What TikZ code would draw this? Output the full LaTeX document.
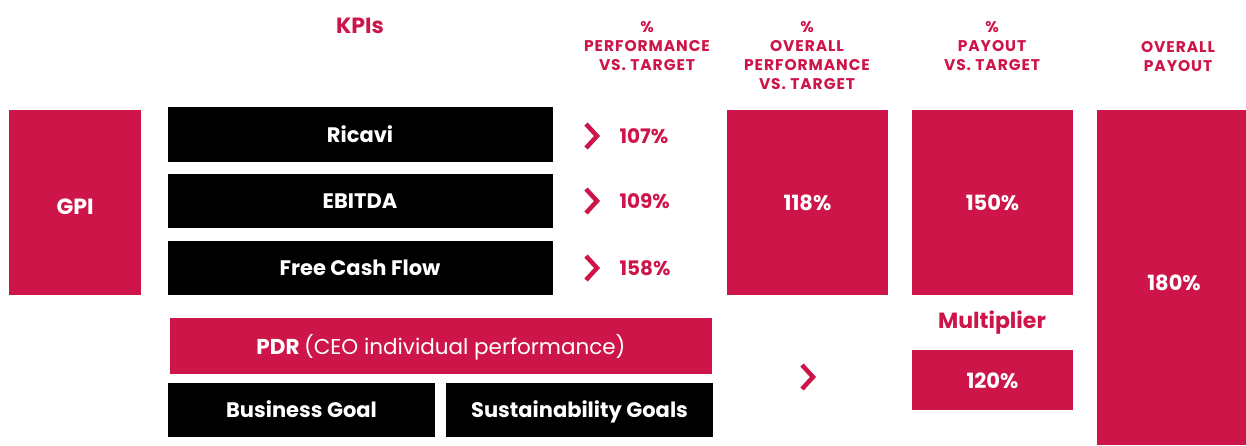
\documentclass[tikz,border=0pt]{standalone}
\usepackage{fontspec}
\setmainfont{Poppins}
\newfontfamily\capsfont[LetterSpace=6]{Poppins}
\definecolor{rouge}{RGB}{206,21,74}

\begin{document}
\begin{tikzpicture}[x=1pt,y=-1pt,
  boxtxt/.style={white,text height=15pt,text depth=4pt,font=\fontsize{21}{24}\selectfont\bfseries},
  valtxt/.style={rouge,anchor=west,font=\fontsize{20}{24}\selectfont\bfseries},
  hdr/.style={rouge,align=center,font=\capsfont\fontsize{15.5}{19}\selectfont\bfseries}]

\newcommand{\mychevron}[2]{% x gauche, y milieu
\draw[rouge,line width=4.5pt] (#1+2,#2-12) -- (#1+13,#2) -- (#1+2,#2+12);
}

\useasboundingbox (0,0) rectangle (1246,445);

%headers
\node[hdr,font=\fontsize{22}{24}\selectfont\bfseries] (kpis) at (360,26) {KPIs};
\node[hdr] (hperf) at (647,46.5) {\%\\PERFORMANCE\\VS. TARGET};
\node[hdr] (hoverall) at (807,56) {\%\\OVERALL\\PERFORMANCE\\VS. TARGET};
\node[hdr] (hpayout) at (992,46.5) {\%\\PAYOUT\\VS. TARGET};
\node[hdr] (htotal) at (1178,57) {OVERALL\\PAYOUT};

%gpi
\fill[rouge] (9,110) rectangle (141,295);
\node[boxtxt,font=\fontsize{22}{24}\selectfont\bfseries] (gpi) at (75,209) {GPI};

%kpi boxes
\fill (168,107) rectangle (553,162);
\node[boxtxt] (ricavi) at (360,136.5) {Ricavi};
\fill (168,174) rectangle (553,228);
\node[boxtxt] (ebitda) at (360,203) {EBITDA};
\fill (168,241) rectangle (553,295);
\node[boxtxt] (fcf) at (360,270) {Free Cash Flow};

%performance vs target
\mychevron{584}{136}
\node[valtxt] (pricavi) at (616,136) {107\%};
\mychevron{584}{201}
\node[valtxt] (pebitda) at (616,201) {109\%};
\mychevron{584}{268}
\node[valtxt] (pfcf) at (616,268) {158\%};

%overall performance
\fill[rouge] (727,110) rectangle (888,295);
\node[boxtxt] (overall) at (807.5,205) {118\%};

%payout
\fill[rouge] (912,110) rectangle (1073,295);
\node[boxtxt] (payout) at (992.5,205) {150\%};

%overall payout
\fill[rouge] (1097,110) rectangle (1246,445);
\node[boxtxt] (total) at (1174,285) {180\%};

%pdr
\fill[rouge] (170,318) rectangle (712,374);
\node[boxtxt,font=\fontsize{21.5}{24}\selectfont\bfseries] (pdr) at (441,349) {PDR \mdseries(CEO individual performance)};
\fill (168,383) rectangle (435,437);
\node[boxtxt] (business) at (301.5,412) {Business Goal};
\fill (446,383) rectangle (713,437);
\node[boxtxt] (sustain) at (579.5,412) {Sustainability Goals};

%multiplier
\mychevron{800}{377}
\node[rouge,font=\fontsize{22}{24}\selectfont\bfseries] (mlabel) at (992,323) {Multiplier};
\fill[rouge] (912,350) rectangle (1073,410);
\node[boxtxt] (mult) at (992.5,383) {120\%};

\end{tikzpicture}
\end{document}
